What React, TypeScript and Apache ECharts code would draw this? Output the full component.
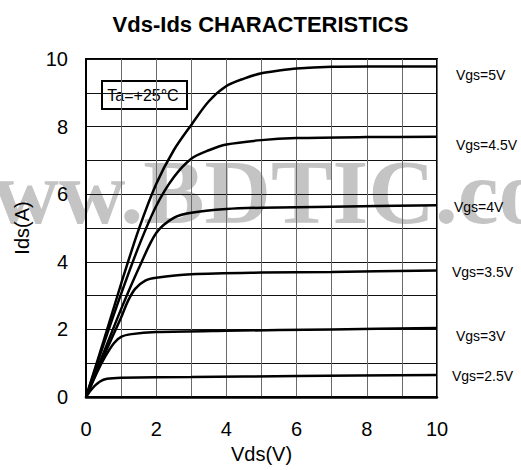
import React, { useEffect, useRef } from 'react';
import * as echarts from 'echarts';

// Vds (V), Ids (A) pairs
const vgs5: number[][] = [[0, 0], [0.5, 1.65], [1, 3.35], [1.5, 4.95], [2, 6.3], [2.5, 7.3], [3, 8.05], [3.5, 8.75], [4, 9.2], [4.5, 9.42], [5, 9.58], [5.5, 9.66], [6, 9.72], [7, 9.77], [8, 9.78], [10, 9.78]];
const vgs45: number[][] = [[0, 0], [0.5, 1.55], [1, 3.05], [1.5, 4.45], [2, 5.65], [2.5, 6.5], [3, 7.05], [3.5, 7.3], [4, 7.47], [5, 7.6], [6, 7.66], [8, 7.69], [10, 7.7]];
const vgs4: number[][] = [[0, 0], [0.5, 1.3], [1, 2.6], [1.5, 3.8], [2, 4.85], [2.5, 5.3], [3, 5.45], [4, 5.56], [5, 5.6], [7, 5.63], [10, 5.67]];
const vgs35: number[][] = [[0, 0], [0.35, 0.85], [0.7, 1.66], [1, 2.35], [1.2, 2.85], [1.4, 3.2], [1.7, 3.45], [2, 3.53], [3, 3.63], [5, 3.68], [7, 3.7], [10, 3.74]];
const vgs3: number[][] = [[0, 0], [0.3, 0.7], [0.55, 1.2], [0.8, 1.6], [1, 1.78], [1.3, 1.86], [2, 1.92], [4, 1.96], [7, 2.0], [10, 2.04]];
const vgs25: number[][] = [[0, 0], [0.1, 0.15], [0.2, 0.28], [0.4, 0.46], [0.6, 0.54], [1, 0.57], [3, 0.59], [6, 0.62], [10, 0.65]];

const curveNames = ['Vgs=5V', 'Vgs=4.5V', 'Vgs=4V', 'Vgs=3.5V', 'Vgs=3V', 'Vgs=2.5V'];
const curves = [vgs5, vgs45, vgs4, vgs35, vgs3, vgs25];

const titleText = 'Vds-Ids CHARACTERISTICS';
const xName = 'Vds(V)';
const yName = 'Ids(A)';
const noteText = 'Ta=+25°C';
const watermarkText = 'www.BDTIC.com';
const axisMin = 0;
const axisMax = 10;
const axisStep = 1;

export default function App() {
  const ref = useRef<HTMLDivElement>(null);
  useEffect(() => {
    if (!ref.current) return;
    const chart = echarts.init(ref.current, null, { renderer: 'svg' });
    const font = 'Liberation Sans, Arial, sans-serif';
    const labelPos = [
      [456, 75],
      [456, 145],
      [454, 207],
      [452, 272],
      [456, 336],
      [452, 376],
    ];
    chart.setOption({
      animation: false,
      backgroundColor: '#fff',
      title: {
        text: titleText,
        left: 'center',
        top: 8,
        textStyle: { fontSize: 22, fontWeight: 'bold', color: '#000', fontFamily: font },
      },
      grid: {
        left: 86,
        right: 84,
        top: 59,
        bottom: 73,
        show: true,
        borderColor: '#000',
        borderWidth: 2,
        backgroundColor: 'transparent',
      },
      xAxis: {
        type: 'value',
        min: axisMin,
        max: axisMax,
        interval: axisStep,
        name: xName,
        nameLocation: 'middle',
        nameGap: 45,
        nameTextStyle: { fontSize: 20, color: '#000', fontFamily: font },
        axisLine: { show: true, lineStyle: { color: '#000', width: 2.5 } },
        axisTick: { show: false },
        axisLabel: {
          formatter: (v: number) => (v % 2 === 0 ? String(v) : ''),
          fontSize: 20,
          color: '#000',
          margin: 22,
          fontFamily: font,
        },
        splitLine: { show: true, lineStyle: { color: '#6a6a6a', width: 1 } },
      },
      yAxis: {
        type: 'value',
        min: axisMin,
        max: axisMax,
        interval: axisStep,
        name: yName,
        nameLocation: 'middle',
        nameGap: 54,
        nameTextStyle: { fontSize: 20, color: '#000', fontFamily: font },
        axisLine: { show: true, lineStyle: { color: '#000', width: 2 } },
        axisTick: { show: false },
        axisLabel: {
          formatter: (v: number) => (v % 2 === 0 ? String(v) : ''),
          fontSize: 20,
          color: '#000',
          margin: 18,
          fontFamily: font,
        },
        splitLine: { show: true, lineStyle: { color: '#111', width: 1 } },
      },
      series: curves.map((d, i) => ({
        type: 'line',
        name: curveNames[i],
        data: d,
        showSymbol: false,
        smooth: 0.3,
        lineStyle: { color: '#000', width: 2.5 },
        z: 3,
      })),
      graphic: [
        {
          type: 'text',
          x: -74,
          y: 192,
          z: -100,
          silent: true,
          style: {
            text: watermarkText,
            font: 'bold 92px "Liberation Serif", "Times New Roman", serif',
            fill: '#c4c4c4',
            textAlign: 'left',
            textVerticalAlign: 'middle',
          },
        },
        {
          type: 'group',
          z: 100,
          children: [
            {
              type: 'rect',
              shape: { x: 102, y: 81, width: 85, height: 28 },
              style: { fill: '#fff', stroke: '#000', lineWidth: 2 },
            },
            {
              type: 'text',
              x: 143,
              y: 95,
              style: {
                text: noteText,
                font: `16px ${font}`,
                fill: '#000',
                textAlign: 'center',
                textVerticalAlign: 'middle',
              },
            },
          ],
        },
        ...curveNames.map((n, i) => ({
          type: 'text',
          x: labelPos[i][0],
          y: labelPos[i][1],
          z: 100,
          style: {
            text: n,
            font: `14px ${font}`,
            fill: '#000',
            textAlign: 'left',
            textVerticalAlign: 'middle',
          },
        })),
      ],
    });
    return () => chart.dispose();
  }, []);
  return (
    <div
      ref={ref}
      style={{ position: 'fixed', left: 0, top: 0, width: 521, height: 470 }}
    />
  );
}
